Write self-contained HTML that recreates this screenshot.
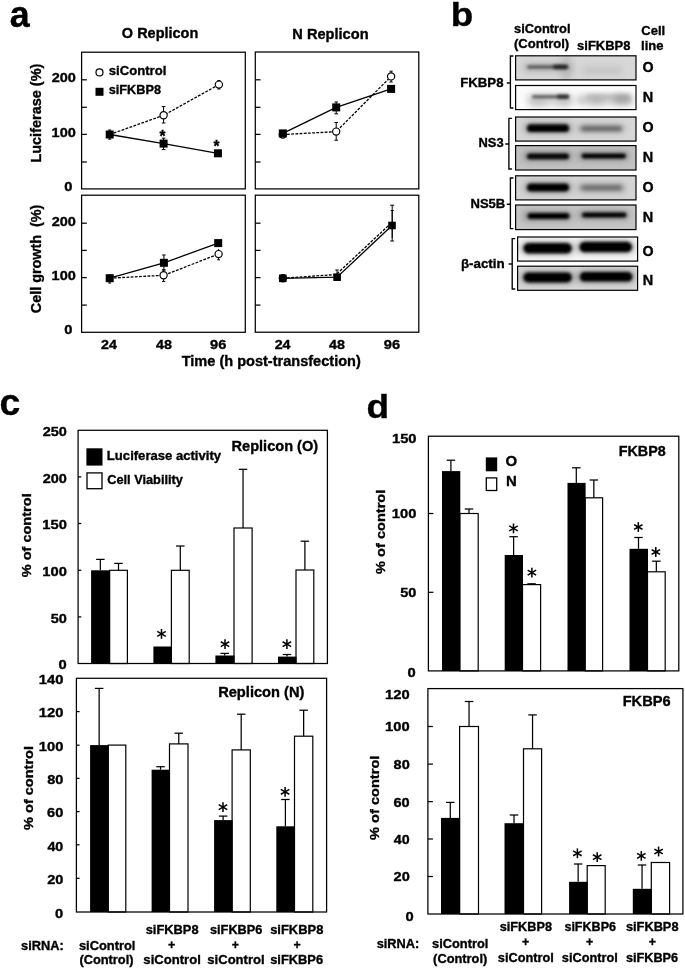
<!DOCTYPE html>
<html><head><meta charset="utf-8"><title>Figure</title>
<style>html,body{margin:0;padding:0;background:#fff;}svg{display:block;}text{font-family:"Liberation Sans",sans-serif;stroke:#000;stroke-width:0.35px;}</style></head>
<body>
<svg width="685" height="970" viewBox="0 0 685 970">
<defs>
<filter id="soft" filterUnits="userSpaceOnUse" x="-5" y="-5" width="695" height="980"><feGaussianBlur stdDeviation="0.45"/></filter>
<filter id="bl1" x="-30%" y="-200%" width="160%" height="500%"><feGaussianBlur stdDeviation="1.0"/></filter>
<filter id="bl15" x="-30%" y="-200%" width="160%" height="500%"><feGaussianBlur stdDeviation="1.5"/></filter>
<filter id="bl2" x="-30%" y="-200%" width="160%" height="500%"><feGaussianBlur stdDeviation="2.2"/></filter>
<filter id="bl3" x="-30%" y="-200%" width="160%" height="500%"><feGaussianBlur stdDeviation="3.2"/></filter>
</defs>
<g filter="url(#soft)"><rect x="-5" y="-5" width="695" height="980" fill="#fff"/>
<text x="9.80" y="26.80" font-size="37.30" font-weight="bold" textLength="19.91" lengthAdjust="spacingAndGlyphs" fill="#000">a</text>
<text x="121.86" y="37.80" font-size="14.60" font-weight="bold" textLength="76.39" lengthAdjust="spacingAndGlyphs" fill="#000">O Replicon</text>
<text x="292.37" y="39.00" font-size="14.60" font-weight="bold" textLength="76.18" lengthAdjust="spacingAndGlyphs" fill="#000">N Replicon</text>
<rect x="81.60" y="52.20" width="163.70" height="136.70" fill="none" stroke="#000" stroke-width="1.25"/>
<line x1="81.60" y1="79.80" x2="86.80" y2="79.80" stroke="#000" stroke-width="1.25" stroke-linecap="butt"/>
<line x1="81.60" y1="107.30" x2="86.80" y2="107.30" stroke="#000" stroke-width="1.25" stroke-linecap="butt"/>
<line x1="81.60" y1="134.40" x2="86.80" y2="134.40" stroke="#000" stroke-width="1.25" stroke-linecap="butt"/>
<line x1="81.60" y1="162.00" x2="86.80" y2="162.00" stroke="#000" stroke-width="1.25" stroke-linecap="butt"/>
<rect x="255.30" y="52.00" width="163.50" height="136.90" fill="none" stroke="#000" stroke-width="1.25"/>
<line x1="255.30" y1="79.80" x2="260.50" y2="79.80" stroke="#000" stroke-width="1.25" stroke-linecap="butt"/>
<line x1="255.30" y1="107.30" x2="260.50" y2="107.30" stroke="#000" stroke-width="1.25" stroke-linecap="butt"/>
<line x1="255.30" y1="134.40" x2="260.50" y2="134.40" stroke="#000" stroke-width="1.25" stroke-linecap="butt"/>
<line x1="255.30" y1="162.00" x2="260.50" y2="162.00" stroke="#000" stroke-width="1.25" stroke-linecap="butt"/>
<rect x="81.60" y="195.20" width="163.70" height="137.10" fill="none" stroke="#000" stroke-width="1.25"/>
<line x1="81.60" y1="223.20" x2="86.80" y2="223.20" stroke="#000" stroke-width="1.25" stroke-linecap="butt"/>
<line x1="81.60" y1="250.40" x2="86.80" y2="250.40" stroke="#000" stroke-width="1.25" stroke-linecap="butt"/>
<line x1="81.60" y1="277.60" x2="86.80" y2="277.60" stroke="#000" stroke-width="1.25" stroke-linecap="butt"/>
<line x1="81.60" y1="305.10" x2="86.80" y2="305.10" stroke="#000" stroke-width="1.25" stroke-linecap="butt"/>
<rect x="255.30" y="195.20" width="163.50" height="137.00" fill="none" stroke="#000" stroke-width="1.25"/>
<line x1="255.30" y1="223.20" x2="260.50" y2="223.20" stroke="#000" stroke-width="1.25" stroke-linecap="butt"/>
<line x1="255.30" y1="250.40" x2="260.50" y2="250.40" stroke="#000" stroke-width="1.25" stroke-linecap="butt"/>
<line x1="255.30" y1="277.60" x2="260.50" y2="277.60" stroke="#000" stroke-width="1.25" stroke-linecap="butt"/>
<line x1="255.30" y1="305.10" x2="260.50" y2="305.10" stroke="#000" stroke-width="1.25" stroke-linecap="butt"/>
<text x="51.65" y="82.25" font-size="13.50" font-weight="bold" textLength="24.20" lengthAdjust="spacingAndGlyphs" fill="#000">200</text>
<text x="51.64" y="136.65" font-size="13.50" font-weight="bold" textLength="24.21" lengthAdjust="spacingAndGlyphs" fill="#000">100</text>
<text x="64.17" y="190.75" font-size="13.50" font-weight="bold" textLength="8.19" lengthAdjust="spacingAndGlyphs" fill="#000">0</text>
<text x="51.65" y="225.65" font-size="13.50" font-weight="bold" textLength="24.20" lengthAdjust="spacingAndGlyphs" fill="#000">200</text>
<text x="51.64" y="279.95" font-size="13.50" font-weight="bold" textLength="24.21" lengthAdjust="spacingAndGlyphs" fill="#000">100</text>
<text x="64.17" y="334.25" font-size="13.50" font-weight="bold" textLength="8.19" lengthAdjust="spacingAndGlyphs" fill="#000">0</text>
<text transform="translate(41.20,161.65) rotate(-90)" x="-0.97" y="0" font-size="14.60" font-weight="bold" textLength="98.99" lengthAdjust="spacingAndGlyphs">Luciferase (%)</text>
<text transform="translate(41.20,312.65) rotate(-90)" x="-0.59" y="0" font-size="14.60" font-weight="bold" textLength="108.61" lengthAdjust="spacingAndGlyphs">Cell growth  (%)</text>
<circle cx="99.50" cy="72.40" r="3.50" fill="#fff" stroke="#000" stroke-width="1.20"/>
<rect x="95.50" y="87.80" width="8.00" height="8.00" fill="#000"/>
<text x="108.79" y="75.00" font-size="12.90" font-weight="bold" textLength="57.49" lengthAdjust="spacingAndGlyphs" fill="#000">siControl</text>
<text x="108.80" y="93.80" font-size="12.90" font-weight="bold" textLength="52.14" lengthAdjust="spacingAndGlyphs" fill="#000">siFKBP8</text>
<text x="101.06" y="349.20" font-size="13.60" font-weight="bold" textLength="15.87" lengthAdjust="spacingAndGlyphs" fill="#000">24</text>
<text x="156.03" y="349.20" font-size="13.60" font-weight="bold" textLength="15.96" lengthAdjust="spacingAndGlyphs" fill="#000">48</text>
<text x="210.14" y="349.20" font-size="13.60" font-weight="bold" textLength="16.34" lengthAdjust="spacingAndGlyphs" fill="#000">96</text>
<text x="274.66" y="349.20" font-size="13.60" font-weight="bold" textLength="15.87" lengthAdjust="spacingAndGlyphs" fill="#000">24</text>
<text x="329.13" y="349.20" font-size="13.60" font-weight="bold" textLength="15.96" lengthAdjust="spacingAndGlyphs" fill="#000">48</text>
<text x="383.74" y="349.20" font-size="13.60" font-weight="bold" textLength="16.34" lengthAdjust="spacingAndGlyphs" fill="#000">96</text>
<text x="181.69" y="365.80" font-size="14.50" font-weight="bold" textLength="179.09" lengthAdjust="spacingAndGlyphs" fill="#000">Time (h post-transfection)</text>
<polyline points="109.70,134.50 163.60,115.30 218.90,84.60" fill="none" stroke="#000" stroke-width="1.30" stroke-dasharray="2.8 1.4"/>
<polyline points="109.70,134.50 163.60,143.60 217.90,153.30" fill="none" stroke="#000" stroke-width="1.30"/>
<line x1="163.60" y1="106.60" x2="163.60" y2="123.00" stroke="#000" stroke-width="1.00" stroke-linecap="butt"/>
<line x1="161.80" y1="106.60" x2="165.40" y2="106.60" stroke="#000" stroke-width="1.00" stroke-linecap="butt"/>
<line x1="161.80" y1="123.00" x2="165.40" y2="123.00" stroke="#000" stroke-width="1.00" stroke-linecap="butt"/>
<line x1="163.60" y1="138.20" x2="163.60" y2="149.60" stroke="#000" stroke-width="1.00" stroke-linecap="butt"/>
<line x1="161.80" y1="138.20" x2="165.40" y2="138.20" stroke="#000" stroke-width="1.00" stroke-linecap="butt"/>
<line x1="161.80" y1="149.60" x2="165.40" y2="149.60" stroke="#000" stroke-width="1.00" stroke-linecap="butt"/>
<line x1="109.70" y1="130.00" x2="109.70" y2="139.20" stroke="#000" stroke-width="1.00" stroke-linecap="butt"/>
<line x1="108.20" y1="130.00" x2="111.20" y2="130.00" stroke="#000" stroke-width="1.00" stroke-linecap="butt"/>
<line x1="108.20" y1="139.20" x2="111.20" y2="139.20" stroke="#000" stroke-width="1.00" stroke-linecap="butt"/>
<line x1="218.90" y1="80.50" x2="218.90" y2="89.00" stroke="#000" stroke-width="1.00" stroke-linecap="butt"/>
<line x1="217.40" y1="80.50" x2="220.40" y2="80.50" stroke="#000" stroke-width="1.00" stroke-linecap="butt"/>
<line x1="217.40" y1="89.00" x2="220.40" y2="89.00" stroke="#000" stroke-width="1.00" stroke-linecap="butt"/>
<circle cx="163.60" cy="115.30" r="3.60" fill="#fff" stroke="#000" stroke-width="1.20"/>
<circle cx="218.90" cy="84.60" r="3.60" fill="#fff" stroke="#000" stroke-width="1.20"/>
<rect x="105.70" y="130.50" width="8.00" height="8.00" fill="#000"/>
<rect x="159.60" y="139.60" width="8.00" height="8.00" fill="#000"/>
<rect x="213.90" y="149.30" width="8.00" height="8.00" fill="#000"/>
<text x="159.60" y="141.73" font-size="16.00" font-weight="bold" textLength="5.98" lengthAdjust="spacingAndGlyphs" fill="#000">*</text>
<text x="213.60" y="152.43" font-size="16.00" font-weight="bold" textLength="5.98" lengthAdjust="spacingAndGlyphs" fill="#000">*</text>
<polyline points="282.80,134.60 336.20,131.60 391.10,76.40" fill="none" stroke="#000" stroke-width="1.30" stroke-dasharray="2.8 1.4"/>
<polyline points="282.80,133.40 336.20,107.40 391.10,88.90" fill="none" stroke="#000" stroke-width="1.30"/>
<line x1="336.20" y1="122.50" x2="336.20" y2="140.20" stroke="#000" stroke-width="1.00" stroke-linecap="butt"/>
<line x1="334.40" y1="122.50" x2="338.00" y2="122.50" stroke="#000" stroke-width="1.00" stroke-linecap="butt"/>
<line x1="334.40" y1="140.20" x2="338.00" y2="140.20" stroke="#000" stroke-width="1.00" stroke-linecap="butt"/>
<line x1="336.20" y1="102.00" x2="336.20" y2="113.80" stroke="#000" stroke-width="1.00" stroke-linecap="butt"/>
<line x1="334.40" y1="102.00" x2="338.00" y2="102.00" stroke="#000" stroke-width="1.00" stroke-linecap="butt"/>
<line x1="334.40" y1="113.80" x2="338.00" y2="113.80" stroke="#000" stroke-width="1.00" stroke-linecap="butt"/>
<line x1="391.10" y1="71.20" x2="391.10" y2="82.00" stroke="#000" stroke-width="1.00" stroke-linecap="butt"/>
<line x1="389.50" y1="71.20" x2="392.70" y2="71.20" stroke="#000" stroke-width="1.00" stroke-linecap="butt"/>
<line x1="389.50" y1="82.00" x2="392.70" y2="82.00" stroke="#000" stroke-width="1.00" stroke-linecap="butt"/>
<circle cx="282.80" cy="134.60" r="3.60" fill="#fff" stroke="#000" stroke-width="1.20"/>
<circle cx="336.20" cy="131.60" r="3.60" fill="#fff" stroke="#000" stroke-width="1.20"/>
<circle cx="391.10" cy="76.40" r="3.60" fill="#fff" stroke="#000" stroke-width="1.20"/>
<rect x="278.80" y="129.40" width="8.00" height="8.00" fill="#000"/>
<rect x="332.20" y="103.40" width="8.00" height="8.00" fill="#000"/>
<rect x="387.10" y="84.90" width="8.00" height="8.00" fill="#000"/>
<polyline points="109.70,278.20 163.60,275.30 218.60,254.10" fill="none" stroke="#000" stroke-width="1.30" stroke-dasharray="2.8 1.4"/>
<polyline points="109.70,278.20 163.90,262.80 218.20,243.10" fill="none" stroke="#000" stroke-width="1.30"/>
<line x1="163.90" y1="255.00" x2="163.90" y2="270.00" stroke="#000" stroke-width="1.00" stroke-linecap="butt"/>
<line x1="162.20" y1="255.00" x2="165.60" y2="255.00" stroke="#000" stroke-width="1.00" stroke-linecap="butt"/>
<line x1="162.20" y1="270.00" x2="165.60" y2="270.00" stroke="#000" stroke-width="1.00" stroke-linecap="butt"/>
<line x1="163.60" y1="269.80" x2="163.60" y2="281.40" stroke="#000" stroke-width="1.00" stroke-linecap="butt"/>
<line x1="161.90" y1="269.80" x2="165.30" y2="269.80" stroke="#000" stroke-width="1.00" stroke-linecap="butt"/>
<line x1="161.90" y1="281.40" x2="165.30" y2="281.40" stroke="#000" stroke-width="1.00" stroke-linecap="butt"/>
<line x1="109.70" y1="274.00" x2="109.70" y2="283.00" stroke="#000" stroke-width="1.00" stroke-linecap="butt"/>
<line x1="108.20" y1="283.00" x2="111.20" y2="283.00" stroke="#000" stroke-width="1.00" stroke-linecap="butt"/>
<line x1="218.60" y1="249.00" x2="218.60" y2="259.80" stroke="#000" stroke-width="1.00" stroke-linecap="butt"/>
<line x1="217.10" y1="259.80" x2="220.10" y2="259.80" stroke="#000" stroke-width="1.00" stroke-linecap="butt"/>
<circle cx="163.60" cy="275.30" r="3.60" fill="#fff" stroke="#000" stroke-width="1.20"/>
<circle cx="218.60" cy="254.10" r="3.60" fill="#fff" stroke="#000" stroke-width="1.20"/>
<rect x="105.70" y="274.20" width="8.00" height="8.00" fill="#000"/>
<rect x="159.90" y="258.80" width="8.00" height="8.00" fill="#000"/>
<rect x="214.20" y="239.10" width="8.00" height="8.00" fill="#000"/>
<polyline points="282.80,278.30 336.20,274.50 390.40,223.80" fill="none" stroke="#000" stroke-width="1.30" stroke-dasharray="2.8 1.4"/>
<polyline points="282.80,278.30 337.10,277.20 392.00,225.50" fill="none" stroke="#000" stroke-width="1.30"/>
<line x1="392.20" y1="205.20" x2="392.20" y2="241.00" stroke="#000" stroke-width="1.00" stroke-linecap="butt"/>
<line x1="390.20" y1="205.20" x2="394.20" y2="205.20" stroke="#000" stroke-width="1.00" stroke-linecap="butt"/>
<line x1="390.20" y1="241.00" x2="394.20" y2="241.00" stroke="#000" stroke-width="1.00" stroke-linecap="butt"/>
<line x1="392.20" y1="210.50" x2="392.20" y2="238.00" stroke="#000" stroke-width="1.00" stroke-linecap="butt"/>
<line x1="390.70" y1="210.50" x2="393.70" y2="210.50" stroke="#000" stroke-width="1.00" stroke-linecap="butt"/>
<line x1="337.00" y1="270.00" x2="337.00" y2="280.00" stroke="#000" stroke-width="1.00" stroke-linecap="butt"/>
<line x1="335.25" y1="270.00" x2="338.75" y2="270.00" stroke="#000" stroke-width="1.00" stroke-linecap="butt"/>
<circle cx="282.80" cy="278.30" r="3.60" fill="#fff" stroke="#000" stroke-width="1.20"/>
<rect x="279.00" y="274.50" width="7.60" height="7.60" fill="#000"/>
<rect x="333.30" y="273.40" width="7.60" height="7.60" fill="#000"/>
<rect x="388.20" y="221.70" width="7.60" height="7.60" fill="#000"/>
<text x="450.73" y="26.00" font-size="33.60" font-weight="bold" textLength="22.43" lengthAdjust="spacingAndGlyphs" fill="#000">b</text>
<text x="514.00" y="33.40" font-size="13.00" font-weight="bold" textLength="56.57" lengthAdjust="spacingAndGlyphs" fill="#000">siControl</text>
<text x="514.00" y="48.40" font-size="13.00" font-weight="bold" textLength="55.20" lengthAdjust="spacingAndGlyphs" fill="#000">(Control)</text>
<text x="577.09" y="50.40" font-size="13.00" font-weight="bold" textLength="53.36" lengthAdjust="spacingAndGlyphs" fill="#000">siFKBP8</text>
<text x="641.32" y="35.40" font-size="13.00" font-weight="bold" textLength="23.85" lengthAdjust="spacingAndGlyphs" fill="#000">Cell</text>
<text x="641.14" y="49.80" font-size="13.00" font-weight="bold" textLength="22.46" lengthAdjust="spacingAndGlyphs" fill="#000">line</text>
<text x="460.16" y="87.40" font-size="13.00" font-weight="bold" textLength="43.39" lengthAdjust="spacingAndGlyphs" fill="#000">FKBP8</text>
<text x="478.49" y="147.40" font-size="13.00" font-weight="bold" textLength="25.13" lengthAdjust="spacingAndGlyphs" fill="#000">NS3</text>
<text x="470.48" y="207.70" font-size="13.00" font-weight="bold" textLength="34.76" lengthAdjust="spacingAndGlyphs" fill="#000">NS5B</text>
<text x="460.92" y="267.80" font-size="13.00" font-weight="bold" textLength="43.75" lengthAdjust="spacingAndGlyphs" fill="#000">β-actin</text>
<path d="M513.40 56.00 H510.40 V108.00 H513.40 M510.40 83.00 H506.80" fill="none" stroke="#000" stroke-width="1.35"/>
<path d="M511.90 118.30 H508.90 V169.00 H511.90 M508.90 144.00 H505.30" fill="none" stroke="#000" stroke-width="1.35"/>
<path d="M513.40 178.00 H510.40 V228.60 H513.40 M510.40 204.20 H506.80" fill="none" stroke="#000" stroke-width="1.35"/>
<path d="M515.20 238.60 H512.20 V289.00 H515.20 M512.20 264.00 H508.60" fill="none" stroke="#000" stroke-width="1.35"/>
<clipPath id="cp1"><rect x="515.60" y="55.80" width="120.40" height="24.10"/></clipPath>
<rect x="515.60" y="55.80" width="120.40" height="24.10" fill="#d7d7d7"/>
<g clip-path="url(#cp1)">
<rect x="560.00" y="53.00" width="12.00" height="30.00" rx="15.00" fill="#999" filter="url(#bl3)" opacity="0.35"/>
<rect x="523.00" y="63.00" width="50.00" height="9.00" rx="4.50" fill="#999" filter="url(#bl3)" opacity="0.50"/>
<rect x="527.00" y="65.40" width="41.00" height="3.00" rx="1.50" fill="#3c3c3c" filter="url(#bl15)" opacity="0.92"/>
<rect x="553.00" y="64.90" width="15.00" height="3.80" rx="1.90" fill="#111" filter="url(#bl15)" opacity="0.85"/>
<rect x="582.00" y="67.00" width="40.00" height="7.00" rx="3.50" fill="#aaa" filter="url(#bl3)" opacity="0.45"/>
</g>
<rect x="515.60" y="55.80" width="120.40" height="24.10" fill="none" stroke="#000" stroke-width="1.2"/>
<clipPath id="cp2"><rect x="515.60" y="85.50" width="120.40" height="24.10"/></clipPath>
<rect x="515.60" y="85.50" width="120.40" height="24.10" fill="#fbfbfb"/>
<g clip-path="url(#cp2)">
<rect x="527.00" y="93.50" width="46.00" height="12.00" rx="6.00" fill="#aaa" filter="url(#bl3)" opacity="0.50"/>
<rect x="530.00" y="97.50" width="16.00" height="9.00" rx="4.50" fill="#aaa" filter="url(#bl3)" opacity="0.40"/>
<rect x="558.00" y="97.50" width="13.00" height="9.00" rx="4.50" fill="#aaa" filter="url(#bl3)" opacity="0.40"/>
<rect x="532.00" y="95.30" width="37.00" height="3.00" rx="1.50" fill="#444" filter="url(#bl15)" opacity="0.92"/>
<rect x="557.00" y="94.70" width="12.00" height="3.80" rx="1.90" fill="#1a1a1a" filter="url(#bl15)" opacity="0.80"/>
<rect x="576.00" y="95.00" width="57.00" height="10.00" rx="5.00" fill="#aaa" filter="url(#bl3)" opacity="0.60"/>
<rect x="586.00" y="94.80" width="44.00" height="3.00" rx="1.50" fill="#888" filter="url(#bl2)" opacity="0.55"/>
<rect x="590.00" y="97.50" width="13.00" height="6.00" rx="3.00" fill="#999" filter="url(#bl3)" opacity="0.50"/>
<rect x="614.00" y="95.50" width="17.00" height="8.00" rx="4.00" fill="#888" filter="url(#bl3)" opacity="0.60"/>
</g>
<rect x="515.60" y="85.50" width="120.40" height="24.10" fill="none" stroke="#000" stroke-width="1.2"/>
<clipPath id="cp3"><rect x="515.60" y="117.00" width="120.40" height="24.10"/></clipPath>
<rect x="515.60" y="117.00" width="120.40" height="24.10" fill="#d6d6d6"/>
<g clip-path="url(#cp3)">
<rect x="524.00" y="123.20" width="48.00" height="10.00" rx="5.00" fill="#555" filter="url(#bl3)" opacity="0.50"/>
<rect x="527.00" y="124.30" width="42.00" height="7.80" rx="3.90" fill="#000" filter="url(#bl15)" opacity="1.00"/>
<rect x="578.00" y="125.10" width="46.00" height="7.00" rx="3.50" fill="#777" filter="url(#bl3)" opacity="0.55"/>
<rect x="581.00" y="126.90" width="41.00" height="3.40" rx="1.70" fill="#383838" filter="url(#bl2)" opacity="0.95"/>
</g>
<rect x="515.60" y="117.00" width="120.40" height="24.10" fill="none" stroke="#000" stroke-width="1.2"/>
<clipPath id="cp4"><rect x="515.60" y="145.60" width="120.40" height="24.40"/></clipPath>
<rect x="515.60" y="145.60" width="120.40" height="24.40" fill="#c2c2c2"/>
<g clip-path="url(#cp4)">
<rect x="523.00" y="151.80" width="49.00" height="9.00" rx="4.50" fill="#555" filter="url(#bl3)" opacity="0.50"/>
<rect x="527.00" y="153.40" width="42.00" height="5.80" rx="2.90" fill="#000" filter="url(#bl15)" opacity="1.00"/>
<rect x="578.00" y="152.00" width="51.00" height="8.00" rx="4.00" fill="#555" filter="url(#bl3)" opacity="0.50"/>
<rect x="581.50" y="153.60" width="44.50" height="4.80" rx="2.40" fill="#000" filter="url(#bl15)" opacity="1.00"/>
</g>
<rect x="515.60" y="145.60" width="120.40" height="24.40" fill="none" stroke="#000" stroke-width="1.2"/>
<clipPath id="cp5"><rect x="515.60" y="175.80" width="120.40" height="24.10"/></clipPath>
<rect x="515.60" y="175.80" width="120.40" height="24.10" fill="#d4d4d4"/>
<g clip-path="url(#cp5)">
<rect x="524.00" y="182.50" width="48.00" height="10.00" rx="5.00" fill="#555" filter="url(#bl3)" opacity="0.50"/>
<rect x="527.00" y="183.60" width="42.00" height="7.80" rx="3.90" fill="#000" filter="url(#bl15)" opacity="1.00"/>
<rect x="578.00" y="184.05" width="47.00" height="7.50" rx="3.75" fill="#777" filter="url(#bl3)" opacity="0.60"/>
<rect x="581.50" y="185.90" width="40.50" height="3.60" rx="1.80" fill="#4a4a4a" filter="url(#bl2)" opacity="0.90"/>
</g>
<rect x="515.60" y="175.80" width="120.40" height="24.10" fill="none" stroke="#000" stroke-width="1.2"/>
<clipPath id="cp6"><rect x="515.60" y="205.00" width="120.40" height="24.60"/></clipPath>
<rect x="515.60" y="205.00" width="120.40" height="24.60" fill="#c5c5c5"/>
<g clip-path="url(#cp6)">
<rect x="523.00" y="211.50" width="49.00" height="9.00" rx="4.50" fill="#555" filter="url(#bl3)" opacity="0.50"/>
<rect x="527.50" y="213.00" width="42.00" height="6.00" rx="3.00" fill="#000" filter="url(#bl15)" opacity="1.00"/>
<rect x="578.00" y="211.00" width="51.00" height="8.00" rx="4.00" fill="#555" filter="url(#bl3)" opacity="0.50"/>
<rect x="582.00" y="212.40" width="44.50" height="5.00" rx="2.50" fill="#000" filter="url(#bl15)" opacity="1.00"/>
</g>
<rect x="515.60" y="205.00" width="120.40" height="24.60" fill="none" stroke="#000" stroke-width="1.2"/>
<clipPath id="cp7"><rect x="517.60" y="237.00" width="120.00" height="24.10"/></clipPath>
<rect x="517.60" y="237.00" width="120.00" height="24.10" fill="#f6f6f6"/>
<g clip-path="url(#cp7)">
<rect x="520.00" y="241.70" width="55.00" height="13.00" rx="6.50" fill="#666" filter="url(#bl3)" opacity="0.50"/>
<rect x="523.40" y="242.90" width="48.40" height="10.60" rx="5.30" fill="#000" filter="url(#bl15)" opacity="1.00"/>
<rect x="576.00" y="240.50" width="59.00" height="13.00" rx="6.50" fill="#666" filter="url(#bl3)" opacity="0.50"/>
<rect x="579.40" y="241.70" width="52.60" height="10.60" rx="5.30" fill="#000" filter="url(#bl15)" opacity="1.00"/>
</g>
<rect x="517.60" y="237.00" width="120.00" height="24.10" fill="none" stroke="#000" stroke-width="1.2"/>
<clipPath id="cp8"><rect x="517.60" y="266.20" width="120.00" height="24.10"/></clipPath>
<rect x="517.60" y="266.20" width="120.00" height="24.10" fill="#d8d8d8"/>
<g clip-path="url(#cp8)">
<rect x="520.00" y="271.15" width="55.00" height="12.50" rx="6.25" fill="#555" filter="url(#bl3)" opacity="0.50"/>
<rect x="523.40" y="272.40" width="48.40" height="10.00" rx="5.00" fill="#000" filter="url(#bl15)" opacity="1.00"/>
<rect x="576.00" y="270.55" width="59.00" height="12.50" rx="6.25" fill="#555" filter="url(#bl3)" opacity="0.50"/>
<rect x="579.80" y="272.00" width="52.60" height="9.60" rx="4.80" fill="#000" filter="url(#bl15)" opacity="1.00"/>
</g>
<rect x="517.60" y="266.20" width="120.00" height="24.10" fill="none" stroke="#000" stroke-width="1.2"/>
<text x="642.47" y="71.60" font-size="14.00" font-weight="bold" textLength="11.08" lengthAdjust="spacingAndGlyphs" fill="#000">O</text>
<text x="642.88" y="102.20" font-size="14.00" font-weight="bold" textLength="10.44" lengthAdjust="spacingAndGlyphs" fill="#000">N</text>
<text x="642.47" y="131.60" font-size="14.00" font-weight="bold" textLength="11.08" lengthAdjust="spacingAndGlyphs" fill="#000">O</text>
<text x="642.88" y="161.50" font-size="14.00" font-weight="bold" textLength="10.44" lengthAdjust="spacingAndGlyphs" fill="#000">N</text>
<text x="642.47" y="191.60" font-size="14.00" font-weight="bold" textLength="11.08" lengthAdjust="spacingAndGlyphs" fill="#000">O</text>
<text x="642.88" y="221.50" font-size="14.00" font-weight="bold" textLength="10.44" lengthAdjust="spacingAndGlyphs" fill="#000">N</text>
<text x="642.47" y="255.80" font-size="14.00" font-weight="bold" textLength="11.08" lengthAdjust="spacingAndGlyphs" fill="#000">O</text>
<text x="642.88" y="285.00" font-size="14.00" font-weight="bold" textLength="10.44" lengthAdjust="spacingAndGlyphs" fill="#000">N</text>
<text x="-0.61" y="414.60" font-size="36.30" font-weight="bold" textLength="20.75" lengthAdjust="spacingAndGlyphs" fill="#000">c</text>
<rect x="109.60" y="570.30" width="17.80" height="93.20" fill="#fff" stroke="#000" stroke-width="1.20"/>
<rect x="91.10" y="570.30" width="19.00" height="93.20" fill="#000"/>
<line x1="100.35" y1="559.40" x2="100.35" y2="570.30" stroke="#000" stroke-width="1.25" stroke-linecap="butt"/>
<line x1="96.10" y1="559.40" x2="104.60" y2="559.40" stroke="#000" stroke-width="1.25" stroke-linecap="butt"/>
<line x1="118.50" y1="563.40" x2="118.50" y2="570.30" stroke="#000" stroke-width="1.25" stroke-linecap="butt"/>
<line x1="114.25" y1="563.40" x2="122.75" y2="563.40" stroke="#000" stroke-width="1.25" stroke-linecap="butt"/>
<rect x="171.40" y="570.30" width="17.80" height="93.20" fill="#fff" stroke="#000" stroke-width="1.20"/>
<rect x="153.40" y="646.50" width="18.50" height="17.00" fill="#000"/>
<line x1="180.30" y1="546.00" x2="180.30" y2="570.30" stroke="#000" stroke-width="1.25" stroke-linecap="butt"/>
<line x1="176.05" y1="546.00" x2="184.55" y2="546.00" stroke="#000" stroke-width="1.25" stroke-linecap="butt"/>
<rect x="234.00" y="528.00" width="18.10" height="135.50" fill="#fff" stroke="#000" stroke-width="1.20"/>
<rect x="215.40" y="655.50" width="19.10" height="8.00" fill="#000"/>
<line x1="224.70" y1="653.40" x2="224.70" y2="655.50" stroke="#000" stroke-width="1.25" stroke-linecap="butt"/>
<line x1="220.45" y1="653.40" x2="228.95" y2="653.40" stroke="#000" stroke-width="1.25" stroke-linecap="butt"/>
<line x1="243.05" y1="469.30" x2="243.05" y2="528.00" stroke="#000" stroke-width="1.25" stroke-linecap="butt"/>
<line x1="238.80" y1="469.30" x2="247.30" y2="469.30" stroke="#000" stroke-width="1.25" stroke-linecap="butt"/>
<rect x="296.00" y="570.00" width="17.80" height="93.50" fill="#fff" stroke="#000" stroke-width="1.20"/>
<rect x="278.00" y="656.60" width="18.50" height="6.90" fill="#000"/>
<line x1="287.00" y1="654.50" x2="287.00" y2="656.60" stroke="#000" stroke-width="1.25" stroke-linecap="butt"/>
<line x1="282.75" y1="654.50" x2="291.25" y2="654.50" stroke="#000" stroke-width="1.25" stroke-linecap="butt"/>
<line x1="304.90" y1="541.20" x2="304.90" y2="570.00" stroke="#000" stroke-width="1.25" stroke-linecap="butt"/>
<line x1="300.65" y1="541.20" x2="309.15" y2="541.20" stroke="#000" stroke-width="1.25" stroke-linecap="butt"/>
<rect x="78.10" y="430.30" width="249.30" height="233.20" fill="none" stroke="#000" stroke-width="1.25"/>
<line x1="78.10" y1="476.90" x2="81.30" y2="476.90" stroke="#000" stroke-width="1.25" stroke-linecap="butt"/>
<line x1="78.10" y1="523.50" x2="81.30" y2="523.50" stroke="#000" stroke-width="1.25" stroke-linecap="butt"/>
<line x1="78.10" y1="570.30" x2="81.30" y2="570.30" stroke="#000" stroke-width="1.25" stroke-linecap="butt"/>
<line x1="78.10" y1="616.90" x2="81.30" y2="616.90" stroke="#000" stroke-width="1.25" stroke-linecap="butt"/>
<text x="42.65" y="436.20" font-size="13.40" font-weight="bold" textLength="24.20" lengthAdjust="spacingAndGlyphs" fill="#000">250</text>
<text x="42.65" y="482.80" font-size="13.40" font-weight="bold" textLength="24.20" lengthAdjust="spacingAndGlyphs" fill="#000">200</text>
<text x="42.24" y="529.40" font-size="13.40" font-weight="bold" textLength="24.59" lengthAdjust="spacingAndGlyphs" fill="#000">150</text>
<text x="42.24" y="576.20" font-size="13.40" font-weight="bold" textLength="24.59" lengthAdjust="spacingAndGlyphs" fill="#000">100</text>
<text x="50.70" y="622.80" font-size="13.40" font-weight="bold" textLength="16.14" lengthAdjust="spacingAndGlyphs" fill="#000">50</text>
<text x="58.61" y="669.40" font-size="13.40" font-weight="bold" textLength="8.20" lengthAdjust="spacingAndGlyphs" fill="#000">0</text>
<line x1="161.50" y1="633.90" x2="161.50" y2="629.00" stroke="#000" stroke-width="1.55"/>
<line x1="161.50" y1="633.90" x2="157.26" y2="631.45" stroke="#000" stroke-width="1.55"/>
<line x1="161.50" y1="633.90" x2="157.26" y2="636.35" stroke="#000" stroke-width="1.55"/>
<line x1="161.50" y1="633.90" x2="161.50" y2="638.80" stroke="#000" stroke-width="1.55"/>
<line x1="161.50" y1="633.90" x2="165.74" y2="636.35" stroke="#000" stroke-width="1.55"/>
<line x1="161.50" y1="633.90" x2="165.74" y2="631.45" stroke="#000" stroke-width="1.55"/>
<line x1="225.00" y1="644.20" x2="225.00" y2="639.30" stroke="#000" stroke-width="1.55"/>
<line x1="225.00" y1="644.20" x2="220.76" y2="641.75" stroke="#000" stroke-width="1.55"/>
<line x1="225.00" y1="644.20" x2="220.76" y2="646.65" stroke="#000" stroke-width="1.55"/>
<line x1="225.00" y1="644.20" x2="225.00" y2="649.10" stroke="#000" stroke-width="1.55"/>
<line x1="225.00" y1="644.20" x2="229.24" y2="646.65" stroke="#000" stroke-width="1.55"/>
<line x1="225.00" y1="644.20" x2="229.24" y2="641.75" stroke="#000" stroke-width="1.55"/>
<line x1="286.90" y1="644.20" x2="286.90" y2="639.30" stroke="#000" stroke-width="1.55"/>
<line x1="286.90" y1="644.20" x2="282.66" y2="641.75" stroke="#000" stroke-width="1.55"/>
<line x1="286.90" y1="644.20" x2="282.66" y2="646.65" stroke="#000" stroke-width="1.55"/>
<line x1="286.90" y1="644.20" x2="286.90" y2="649.10" stroke="#000" stroke-width="1.55"/>
<line x1="286.90" y1="644.20" x2="291.14" y2="646.65" stroke="#000" stroke-width="1.55"/>
<line x1="286.90" y1="644.20" x2="291.14" y2="641.75" stroke="#000" stroke-width="1.55"/>
<rect x="86.40" y="448.30" width="16.10" height="17.30" fill="#000" stroke="#000" stroke-width="0.00"/>
<rect x="87.00" y="472.90" width="15.00" height="15.80" fill="#fff" stroke="#000" stroke-width="1.30"/>
<text x="106.88" y="460.00" font-size="12.90" font-weight="bold" textLength="114.15" lengthAdjust="spacingAndGlyphs" fill="#000">Luciferase activity</text>
<text x="107.23" y="483.70" font-size="12.90" font-weight="bold" textLength="75.69" lengthAdjust="spacingAndGlyphs" fill="#000">Cell Viability</text>
<text x="231.58" y="451.00" font-size="14.40" font-weight="bold" textLength="86.50" lengthAdjust="spacingAndGlyphs" fill="#000">Replicon (O)</text>
<text transform="translate(31.40,576.95) rotate(-90)" x="-0.36" y="0" font-size="13.60" font-weight="bold" textLength="83.99" lengthAdjust="spacingAndGlyphs">% of control</text>
<rect x="108.20" y="745.10" width="17.60" height="166.90" fill="#fff" stroke="#000" stroke-width="1.20"/>
<rect x="90.10" y="745.10" width="18.60" height="166.90" fill="#000"/>
<line x1="99.15" y1="688.40" x2="99.15" y2="745.10" stroke="#000" stroke-width="1.25" stroke-linecap="butt"/>
<line x1="94.90" y1="688.40" x2="103.40" y2="688.40" stroke="#000" stroke-width="1.25" stroke-linecap="butt"/>
<rect x="169.50" y="743.90" width="18.50" height="168.10" fill="#fff" stroke="#000" stroke-width="1.20"/>
<rect x="151.60" y="769.70" width="18.40" height="142.30" fill="#000"/>
<line x1="160.55" y1="766.70" x2="160.55" y2="769.70" stroke="#000" stroke-width="1.25" stroke-linecap="butt"/>
<line x1="156.30" y1="766.70" x2="164.80" y2="766.70" stroke="#000" stroke-width="1.25" stroke-linecap="butt"/>
<line x1="178.75" y1="733.20" x2="178.75" y2="743.90" stroke="#000" stroke-width="1.25" stroke-linecap="butt"/>
<line x1="174.50" y1="733.20" x2="183.00" y2="733.20" stroke="#000" stroke-width="1.25" stroke-linecap="butt"/>
<rect x="232.10" y="749.90" width="18.20" height="162.10" fill="#fff" stroke="#000" stroke-width="1.20"/>
<rect x="214.10" y="820.10" width="18.50" height="91.90" fill="#000"/>
<line x1="223.10" y1="816.10" x2="223.10" y2="820.10" stroke="#000" stroke-width="1.25" stroke-linecap="butt"/>
<line x1="218.85" y1="816.10" x2="227.35" y2="816.10" stroke="#000" stroke-width="1.25" stroke-linecap="butt"/>
<line x1="241.20" y1="714.20" x2="241.20" y2="749.90" stroke="#000" stroke-width="1.25" stroke-linecap="butt"/>
<line x1="236.95" y1="714.20" x2="245.45" y2="714.20" stroke="#000" stroke-width="1.25" stroke-linecap="butt"/>
<rect x="294.50" y="736.20" width="18.30" height="175.80" fill="#fff" stroke="#000" stroke-width="1.20"/>
<rect x="276.30" y="826.30" width="18.70" height="85.70" fill="#000"/>
<line x1="285.40" y1="799.50" x2="285.40" y2="826.30" stroke="#000" stroke-width="1.25" stroke-linecap="butt"/>
<line x1="281.15" y1="799.50" x2="289.65" y2="799.50" stroke="#000" stroke-width="1.25" stroke-linecap="butt"/>
<line x1="303.65" y1="710.20" x2="303.65" y2="736.20" stroke="#000" stroke-width="1.25" stroke-linecap="butt"/>
<line x1="299.40" y1="710.20" x2="307.90" y2="710.20" stroke="#000" stroke-width="1.25" stroke-linecap="butt"/>
<rect x="76.40" y="678.30" width="250.20" height="233.70" fill="none" stroke="#000" stroke-width="1.25"/>
<text x="38.74" y="684.00" font-size="13.40" font-weight="bold" textLength="24.59" lengthAdjust="spacingAndGlyphs" fill="#000">140</text>
<line x1="76.40" y1="711.60" x2="79.60" y2="711.60" stroke="#000" stroke-width="1.25" stroke-linecap="butt"/>
<text x="38.74" y="717.30" font-size="13.40" font-weight="bold" textLength="24.59" lengthAdjust="spacingAndGlyphs" fill="#000">120</text>
<line x1="76.40" y1="745.20" x2="79.60" y2="745.20" stroke="#000" stroke-width="1.25" stroke-linecap="butt"/>
<text x="38.74" y="750.90" font-size="13.40" font-weight="bold" textLength="24.59" lengthAdjust="spacingAndGlyphs" fill="#000">100</text>
<line x1="76.40" y1="778.40" x2="79.60" y2="778.40" stroke="#000" stroke-width="1.25" stroke-linecap="butt"/>
<text x="47.19" y="784.10" font-size="13.40" font-weight="bold" textLength="16.16" lengthAdjust="spacingAndGlyphs" fill="#000">80</text>
<line x1="76.40" y1="811.60" x2="79.60" y2="811.60" stroke="#000" stroke-width="1.25" stroke-linecap="butt"/>
<text x="47.12" y="817.30" font-size="13.40" font-weight="bold" textLength="16.23" lengthAdjust="spacingAndGlyphs" fill="#000">60</text>
<line x1="76.40" y1="844.80" x2="79.60" y2="844.80" stroke="#000" stroke-width="1.25" stroke-linecap="butt"/>
<text x="47.43" y="850.50" font-size="13.40" font-weight="bold" textLength="15.90" lengthAdjust="spacingAndGlyphs" fill="#000">40</text>
<line x1="76.40" y1="878.30" x2="79.60" y2="878.30" stroke="#000" stroke-width="1.25" stroke-linecap="butt"/>
<text x="47.15" y="884.00" font-size="13.40" font-weight="bold" textLength="16.20" lengthAdjust="spacingAndGlyphs" fill="#000">20</text>
<text x="55.11" y="917.70" font-size="13.40" font-weight="bold" textLength="8.20" lengthAdjust="spacingAndGlyphs" fill="#000">0</text>
<line x1="223.00" y1="807.10" x2="223.00" y2="802.20" stroke="#000" stroke-width="1.55"/>
<line x1="223.00" y1="807.10" x2="218.76" y2="804.65" stroke="#000" stroke-width="1.55"/>
<line x1="223.00" y1="807.10" x2="218.76" y2="809.55" stroke="#000" stroke-width="1.55"/>
<line x1="223.00" y1="807.10" x2="223.00" y2="812.00" stroke="#000" stroke-width="1.55"/>
<line x1="223.00" y1="807.10" x2="227.24" y2="809.55" stroke="#000" stroke-width="1.55"/>
<line x1="223.00" y1="807.10" x2="227.24" y2="804.65" stroke="#000" stroke-width="1.55"/>
<line x1="285.10" y1="791.80" x2="285.10" y2="786.90" stroke="#000" stroke-width="1.55"/>
<line x1="285.10" y1="791.80" x2="280.86" y2="789.35" stroke="#000" stroke-width="1.55"/>
<line x1="285.10" y1="791.80" x2="280.86" y2="794.25" stroke="#000" stroke-width="1.55"/>
<line x1="285.10" y1="791.80" x2="285.10" y2="796.70" stroke="#000" stroke-width="1.55"/>
<line x1="285.10" y1="791.80" x2="289.34" y2="794.25" stroke="#000" stroke-width="1.55"/>
<line x1="285.10" y1="791.80" x2="289.34" y2="789.35" stroke="#000" stroke-width="1.55"/>
<text x="218.17" y="696.80" font-size="14.40" font-weight="bold" textLength="86.21" lengthAdjust="spacingAndGlyphs" fill="#000">Replicon (N)</text>
<text transform="translate(33.00,829.55) rotate(-90)" x="-0.36" y="0" font-size="13.60" font-weight="bold" textLength="83.89" lengthAdjust="spacingAndGlyphs">% of control</text>
<text x="21.10" y="950.20" font-size="12.90" font-weight="bold" textLength="42.68" lengthAdjust="spacingAndGlyphs" fill="#000">siRNA:</text>
<text x="78.90" y="950.20" font-size="12.90" font-weight="bold" textLength="56.57" lengthAdjust="spacingAndGlyphs" fill="#000">siControl</text>
<text x="79.41" y="964.00" font-size="12.90" font-weight="bold" textLength="54.08" lengthAdjust="spacingAndGlyphs" fill="#000">(Control)</text>
<text x="145.70" y="933.50" font-size="12.90" font-weight="bold" textLength="52.85" lengthAdjust="spacingAndGlyphs" fill="#000">siFKBP8</text>
<text x="210.00" y="933.50" font-size="12.90" font-weight="bold" textLength="52.31" lengthAdjust="spacingAndGlyphs" fill="#000">siFKBP6</text>
<text x="270.20" y="933.50" font-size="12.90" font-weight="bold" textLength="53.15" lengthAdjust="spacingAndGlyphs" fill="#000">siFKBP8</text>
<text x="168.07" y="949.20" font-size="12.90" font-weight="bold" textLength="7.23" lengthAdjust="spacingAndGlyphs" fill="#000">+</text>
<text x="231.77" y="949.20" font-size="12.90" font-weight="bold" textLength="7.23" lengthAdjust="spacingAndGlyphs" fill="#000">+</text>
<text x="293.47" y="949.20" font-size="12.90" font-weight="bold" textLength="7.23" lengthAdjust="spacingAndGlyphs" fill="#000">+</text>
<text x="143.39" y="964.20" font-size="12.90" font-weight="bold" textLength="57.49" lengthAdjust="spacingAndGlyphs" fill="#000">siControl</text>
<text x="207.39" y="964.20" font-size="12.90" font-weight="bold" textLength="57.18" lengthAdjust="spacingAndGlyphs" fill="#000">siControl</text>
<text x="270.20" y="964.20" font-size="12.90" font-weight="bold" textLength="52.92" lengthAdjust="spacingAndGlyphs" fill="#000">siFKBP6</text>
<text x="366.52" y="418.30" font-size="33.60" font-weight="bold" textLength="22.58" lengthAdjust="spacingAndGlyphs" fill="#000">d</text>
<rect x="459.80" y="513.50" width="18.40" height="157.40" fill="#fff" stroke="#000" stroke-width="1.20"/>
<rect x="442.00" y="471.10" width="18.30" height="199.80" fill="#000"/>
<line x1="450.90" y1="460.20" x2="450.90" y2="471.10" stroke="#000" stroke-width="1.25" stroke-linecap="butt"/>
<line x1="446.65" y1="460.20" x2="455.15" y2="460.20" stroke="#000" stroke-width="1.25" stroke-linecap="butt"/>
<line x1="469.00" y1="509.00" x2="469.00" y2="513.50" stroke="#000" stroke-width="1.25" stroke-linecap="butt"/>
<line x1="464.75" y1="509.00" x2="473.25" y2="509.00" stroke="#000" stroke-width="1.25" stroke-linecap="butt"/>
<rect x="522.50" y="584.60" width="18.10" height="86.30" fill="#fff" stroke="#000" stroke-width="1.20"/>
<rect x="504.70" y="555.00" width="18.30" height="115.90" fill="#000"/>
<line x1="513.60" y1="536.70" x2="513.60" y2="555.00" stroke="#000" stroke-width="1.25" stroke-linecap="butt"/>
<line x1="509.35" y1="536.70" x2="517.85" y2="536.70" stroke="#000" stroke-width="1.25" stroke-linecap="butt"/>
<line x1="531.55" y1="583.80" x2="531.55" y2="584.60" stroke="#000" stroke-width="1.25" stroke-linecap="butt"/>
<line x1="527.30" y1="583.80" x2="535.80" y2="583.80" stroke="#000" stroke-width="1.25" stroke-linecap="butt"/>
<rect x="585.10" y="497.80" width="17.50" height="173.10" fill="#fff" stroke="#000" stroke-width="1.20"/>
<rect x="567.50" y="482.90" width="18.10" height="188.00" fill="#000"/>
<line x1="576.30" y1="467.80" x2="576.30" y2="482.90" stroke="#000" stroke-width="1.25" stroke-linecap="butt"/>
<line x1="572.05" y1="467.80" x2="580.55" y2="467.80" stroke="#000" stroke-width="1.25" stroke-linecap="butt"/>
<line x1="593.85" y1="480.00" x2="593.85" y2="497.80" stroke="#000" stroke-width="1.25" stroke-linecap="butt"/>
<line x1="589.60" y1="480.00" x2="598.10" y2="480.00" stroke="#000" stroke-width="1.25" stroke-linecap="butt"/>
<rect x="647.50" y="571.80" width="17.70" height="99.10" fill="#fff" stroke="#000" stroke-width="1.20"/>
<rect x="629.50" y="548.80" width="18.50" height="122.10" fill="#000"/>
<line x1="638.50" y1="537.50" x2="638.50" y2="548.80" stroke="#000" stroke-width="1.25" stroke-linecap="butt"/>
<line x1="634.25" y1="537.50" x2="642.75" y2="537.50" stroke="#000" stroke-width="1.25" stroke-linecap="butt"/>
<line x1="656.35" y1="561.20" x2="656.35" y2="571.80" stroke="#000" stroke-width="1.25" stroke-linecap="butt"/>
<line x1="652.10" y1="561.20" x2="660.60" y2="561.20" stroke="#000" stroke-width="1.25" stroke-linecap="butt"/>
<rect x="428.40" y="436.20" width="250.40" height="234.70" fill="none" stroke="#000" stroke-width="1.25"/>
<line x1="428.40" y1="513.50" x2="433.40" y2="513.50" stroke="#000" stroke-width="1.25" stroke-linecap="butt"/>
<line x1="428.40" y1="592.30" x2="433.40" y2="592.30" stroke="#000" stroke-width="1.25" stroke-linecap="butt"/>
<text x="391.94" y="443.30" font-size="13.40" font-weight="bold" textLength="24.59" lengthAdjust="spacingAndGlyphs" fill="#000">150</text>
<text x="391.74" y="517.50" font-size="13.40" font-weight="bold" textLength="24.59" lengthAdjust="spacingAndGlyphs" fill="#000">100</text>
<text x="400.20" y="596.70" font-size="13.40" font-weight="bold" textLength="16.14" lengthAdjust="spacingAndGlyphs" fill="#000">50</text>
<text x="407.61" y="676.90" font-size="13.40" font-weight="bold" textLength="8.20" lengthAdjust="spacingAndGlyphs" fill="#000">0</text>
<line x1="513.50" y1="528.40" x2="513.50" y2="523.50" stroke="#000" stroke-width="1.55"/>
<line x1="513.50" y1="528.40" x2="509.26" y2="525.95" stroke="#000" stroke-width="1.55"/>
<line x1="513.50" y1="528.40" x2="509.26" y2="530.85" stroke="#000" stroke-width="1.55"/>
<line x1="513.50" y1="528.40" x2="513.50" y2="533.30" stroke="#000" stroke-width="1.55"/>
<line x1="513.50" y1="528.40" x2="517.74" y2="530.85" stroke="#000" stroke-width="1.55"/>
<line x1="513.50" y1="528.40" x2="517.74" y2="525.95" stroke="#000" stroke-width="1.55"/>
<line x1="531.90" y1="572.60" x2="531.90" y2="567.70" stroke="#000" stroke-width="1.55"/>
<line x1="531.90" y1="572.60" x2="527.66" y2="570.15" stroke="#000" stroke-width="1.55"/>
<line x1="531.90" y1="572.60" x2="527.66" y2="575.05" stroke="#000" stroke-width="1.55"/>
<line x1="531.90" y1="572.60" x2="531.90" y2="577.50" stroke="#000" stroke-width="1.55"/>
<line x1="531.90" y1="572.60" x2="536.14" y2="575.05" stroke="#000" stroke-width="1.55"/>
<line x1="531.90" y1="572.60" x2="536.14" y2="570.15" stroke="#000" stroke-width="1.55"/>
<line x1="638.30" y1="527.00" x2="638.30" y2="522.10" stroke="#000" stroke-width="1.55"/>
<line x1="638.30" y1="527.00" x2="634.06" y2="524.55" stroke="#000" stroke-width="1.55"/>
<line x1="638.30" y1="527.00" x2="634.06" y2="529.45" stroke="#000" stroke-width="1.55"/>
<line x1="638.30" y1="527.00" x2="638.30" y2="531.90" stroke="#000" stroke-width="1.55"/>
<line x1="638.30" y1="527.00" x2="642.54" y2="529.45" stroke="#000" stroke-width="1.55"/>
<line x1="638.30" y1="527.00" x2="642.54" y2="524.55" stroke="#000" stroke-width="1.55"/>
<line x1="655.80" y1="552.00" x2="655.80" y2="547.10" stroke="#000" stroke-width="1.55"/>
<line x1="655.80" y1="552.00" x2="651.56" y2="549.55" stroke="#000" stroke-width="1.55"/>
<line x1="655.80" y1="552.00" x2="651.56" y2="554.45" stroke="#000" stroke-width="1.55"/>
<line x1="655.80" y1="552.00" x2="655.80" y2="556.90" stroke="#000" stroke-width="1.55"/>
<line x1="655.80" y1="552.00" x2="660.04" y2="554.45" stroke="#000" stroke-width="1.55"/>
<line x1="655.80" y1="552.00" x2="660.04" y2="549.55" stroke="#000" stroke-width="1.55"/>
<rect x="485.80" y="457.40" width="11.40" height="13.90" fill="#000" stroke="#000" stroke-width="0.00"/>
<rect x="486.30" y="477.90" width="10.40" height="12.60" fill="#fff" stroke="#000" stroke-width="1.30"/>
<text x="505.54" y="465.60" font-size="14.40" font-weight="bold" textLength="11.64" lengthAdjust="spacingAndGlyphs" fill="#000">O</text>
<text x="505.95" y="485.50" font-size="14.40" font-weight="bold" textLength="10.81" lengthAdjust="spacingAndGlyphs" fill="#000">N</text>
<text x="618.69" y="455.60" font-size="14.20" font-weight="bold" textLength="47.00" lengthAdjust="spacingAndGlyphs" fill="#000">FKBP8</text>
<text transform="translate(384.50,573.55) rotate(-90)" x="-0.36" y="0" font-size="13.60" font-weight="bold" textLength="84.19" lengthAdjust="spacingAndGlyphs">% of control</text>
<rect x="459.60" y="726.50" width="18.90" height="187.50" fill="#fff" stroke="#000" stroke-width="1.20"/>
<rect x="441.00" y="817.90" width="19.10" height="96.10" fill="#000"/>
<line x1="450.30" y1="802.40" x2="450.30" y2="817.90" stroke="#000" stroke-width="1.25" stroke-linecap="butt"/>
<line x1="446.05" y1="802.40" x2="454.55" y2="802.40" stroke="#000" stroke-width="1.25" stroke-linecap="butt"/>
<line x1="469.05" y1="701.50" x2="469.05" y2="726.50" stroke="#000" stroke-width="1.25" stroke-linecap="butt"/>
<line x1="464.80" y1="701.50" x2="473.30" y2="701.50" stroke="#000" stroke-width="1.25" stroke-linecap="butt"/>
<rect x="523.50" y="748.80" width="18.10" height="165.20" fill="#fff" stroke="#000" stroke-width="1.20"/>
<rect x="504.50" y="823.20" width="19.50" height="90.80" fill="#000"/>
<line x1="514.00" y1="815.00" x2="514.00" y2="823.20" stroke="#000" stroke-width="1.25" stroke-linecap="butt"/>
<line x1="509.75" y1="815.00" x2="518.25" y2="815.00" stroke="#000" stroke-width="1.25" stroke-linecap="butt"/>
<line x1="532.55" y1="714.90" x2="532.55" y2="748.80" stroke="#000" stroke-width="1.25" stroke-linecap="butt"/>
<line x1="528.30" y1="714.90" x2="536.80" y2="714.90" stroke="#000" stroke-width="1.25" stroke-linecap="butt"/>
<rect x="587.20" y="865.60" width="18.00" height="48.40" fill="#fff" stroke="#000" stroke-width="1.20"/>
<rect x="569.10" y="881.80" width="18.60" height="32.20" fill="#000"/>
<line x1="578.15" y1="864.00" x2="578.15" y2="881.80" stroke="#000" stroke-width="1.25" stroke-linecap="butt"/>
<line x1="573.90" y1="864.00" x2="582.40" y2="864.00" stroke="#000" stroke-width="1.25" stroke-linecap="butt"/>
<rect x="651.30" y="862.50" width="18.30" height="51.50" fill="#fff" stroke="#000" stroke-width="1.20"/>
<rect x="632.80" y="888.80" width="19.00" height="25.20" fill="#000"/>
<line x1="642.05" y1="865.00" x2="642.05" y2="888.80" stroke="#000" stroke-width="1.25" stroke-linecap="butt"/>
<line x1="637.80" y1="865.00" x2="646.30" y2="865.00" stroke="#000" stroke-width="1.25" stroke-linecap="butt"/>
<rect x="427.90" y="688.60" width="255.00" height="225.40" fill="none" stroke="#000" stroke-width="1.25"/>
<text x="385.14" y="699.00" font-size="13.40" font-weight="bold" textLength="24.59" lengthAdjust="spacingAndGlyphs" fill="#000">120</text>
<line x1="427.90" y1="726.50" x2="432.90" y2="726.50" stroke="#000" stroke-width="1.25" stroke-linecap="butt"/>
<text x="385.14" y="731.40" font-size="13.40" font-weight="bold" textLength="24.59" lengthAdjust="spacingAndGlyphs" fill="#000">100</text>
<line x1="427.90" y1="764.10" x2="432.90" y2="764.10" stroke="#000" stroke-width="1.25" stroke-linecap="butt"/>
<text x="393.59" y="769.00" font-size="13.40" font-weight="bold" textLength="16.16" lengthAdjust="spacingAndGlyphs" fill="#000">80</text>
<line x1="427.90" y1="801.60" x2="432.90" y2="801.60" stroke="#000" stroke-width="1.25" stroke-linecap="butt"/>
<text x="393.52" y="806.50" font-size="13.40" font-weight="bold" textLength="16.23" lengthAdjust="spacingAndGlyphs" fill="#000">60</text>
<line x1="427.90" y1="839.00" x2="432.90" y2="839.00" stroke="#000" stroke-width="1.25" stroke-linecap="butt"/>
<text x="393.83" y="843.90" font-size="13.40" font-weight="bold" textLength="15.90" lengthAdjust="spacingAndGlyphs" fill="#000">40</text>
<line x1="427.90" y1="876.50" x2="432.90" y2="876.50" stroke="#000" stroke-width="1.25" stroke-linecap="butt"/>
<text x="393.55" y="881.40" font-size="13.40" font-weight="bold" textLength="16.20" lengthAdjust="spacingAndGlyphs" fill="#000">20</text>
<text x="405.61" y="920.90" font-size="13.40" font-weight="bold" textLength="8.20" lengthAdjust="spacingAndGlyphs" fill="#000">0</text>
<line x1="577.40" y1="853.30" x2="577.40" y2="848.40" stroke="#000" stroke-width="1.55"/>
<line x1="577.40" y1="853.30" x2="573.16" y2="850.85" stroke="#000" stroke-width="1.55"/>
<line x1="577.40" y1="853.30" x2="573.16" y2="855.75" stroke="#000" stroke-width="1.55"/>
<line x1="577.40" y1="853.30" x2="577.40" y2="858.20" stroke="#000" stroke-width="1.55"/>
<line x1="577.40" y1="853.30" x2="581.64" y2="855.75" stroke="#000" stroke-width="1.55"/>
<line x1="577.40" y1="853.30" x2="581.64" y2="850.85" stroke="#000" stroke-width="1.55"/>
<line x1="597.20" y1="857.20" x2="597.20" y2="852.30" stroke="#000" stroke-width="1.55"/>
<line x1="597.20" y1="857.20" x2="592.96" y2="854.75" stroke="#000" stroke-width="1.55"/>
<line x1="597.20" y1="857.20" x2="592.96" y2="859.65" stroke="#000" stroke-width="1.55"/>
<line x1="597.20" y1="857.20" x2="597.20" y2="862.10" stroke="#000" stroke-width="1.55"/>
<line x1="597.20" y1="857.20" x2="601.44" y2="859.65" stroke="#000" stroke-width="1.55"/>
<line x1="597.20" y1="857.20" x2="601.44" y2="854.75" stroke="#000" stroke-width="1.55"/>
<line x1="641.30" y1="855.90" x2="641.30" y2="851.00" stroke="#000" stroke-width="1.55"/>
<line x1="641.30" y1="855.90" x2="637.06" y2="853.45" stroke="#000" stroke-width="1.55"/>
<line x1="641.30" y1="855.90" x2="637.06" y2="858.35" stroke="#000" stroke-width="1.55"/>
<line x1="641.30" y1="855.90" x2="641.30" y2="860.80" stroke="#000" stroke-width="1.55"/>
<line x1="641.30" y1="855.90" x2="645.54" y2="858.35" stroke="#000" stroke-width="1.55"/>
<line x1="641.30" y1="855.90" x2="645.54" y2="853.45" stroke="#000" stroke-width="1.55"/>
<line x1="658.60" y1="851.50" x2="658.60" y2="846.60" stroke="#000" stroke-width="1.55"/>
<line x1="658.60" y1="851.50" x2="654.36" y2="849.05" stroke="#000" stroke-width="1.55"/>
<line x1="658.60" y1="851.50" x2="654.36" y2="853.95" stroke="#000" stroke-width="1.55"/>
<line x1="658.60" y1="851.50" x2="658.60" y2="856.40" stroke="#000" stroke-width="1.55"/>
<line x1="658.60" y1="851.50" x2="662.84" y2="853.95" stroke="#000" stroke-width="1.55"/>
<line x1="658.60" y1="851.50" x2="662.84" y2="849.05" stroke="#000" stroke-width="1.55"/>
<text x="622.67" y="706.00" font-size="14.20" font-weight="bold" textLength="47.91" lengthAdjust="spacingAndGlyphs" fill="#000">FKBP6</text>
<text transform="translate(378.50,839.65) rotate(-90)" x="-0.36" y="0" font-size="13.60" font-weight="bold" textLength="84.40" lengthAdjust="spacingAndGlyphs">% of control</text>
<text x="376.70" y="947.60" font-size="12.90" font-weight="bold" textLength="42.58" lengthAdjust="spacingAndGlyphs" fill="#000">siRNA:</text>
<text x="432.10" y="947.60" font-size="12.90" font-weight="bold" textLength="56.26" lengthAdjust="spacingAndGlyphs" fill="#000">siControl</text>
<text x="433.11" y="962.50" font-size="12.90" font-weight="bold" textLength="54.18" lengthAdjust="spacingAndGlyphs" fill="#000">(Control)</text>
<text x="499.80" y="931.10" font-size="12.90" font-weight="bold" textLength="52.14" lengthAdjust="spacingAndGlyphs" fill="#000">siFKBP8</text>
<text x="564.41" y="931.10" font-size="12.90" font-weight="bold" textLength="51.59" lengthAdjust="spacingAndGlyphs" fill="#000">siFKBP6</text>
<text x="625.90" y="931.10" font-size="12.90" font-weight="bold" textLength="52.64" lengthAdjust="spacingAndGlyphs" fill="#000">siFKBP8</text>
<text x="521.97" y="946.10" font-size="12.90" font-weight="bold" textLength="7.23" lengthAdjust="spacingAndGlyphs" fill="#000">+</text>
<text x="585.97" y="946.10" font-size="12.90" font-weight="bold" textLength="7.23" lengthAdjust="spacingAndGlyphs" fill="#000">+</text>
<text x="648.67" y="946.10" font-size="12.90" font-weight="bold" textLength="7.23" lengthAdjust="spacingAndGlyphs" fill="#000">+</text>
<text x="497.80" y="962.00" font-size="12.90" font-weight="bold" textLength="56.05" lengthAdjust="spacingAndGlyphs" fill="#000">siControl</text>
<text x="561.80" y="962.00" font-size="12.90" font-weight="bold" textLength="56.05" lengthAdjust="spacingAndGlyphs" fill="#000">siControl</text>
<text x="625.90" y="962.00" font-size="12.90" font-weight="bold" textLength="52.21" lengthAdjust="spacingAndGlyphs" fill="#000">siFKBP6</text>
</g></svg>
</body></html>
